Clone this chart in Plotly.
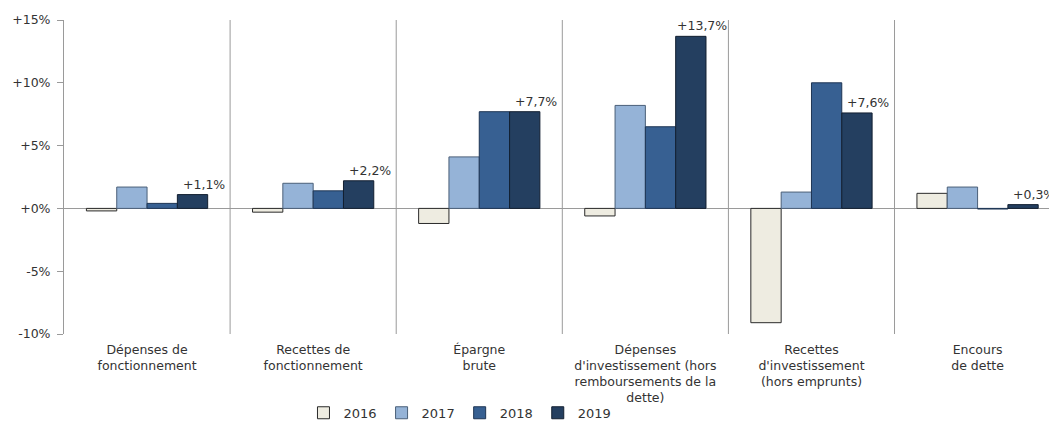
import plotly.graph_objects as go

# Évolution annuelle des principaux agrégats (en %)
categories = [
    "Dépenses de<br>fonctionnement",
    "Recettes de<br>fonctionnement",
    "Épargne<br>brute",
    "Dépenses<br>d'investissement (hors<br>remboursements de la<br>dette)",
    "Recettes<br>d'investissement<br>(hors emprunts)",
    "Encours<br>de dette",
]
years = ["2016", "2017", "2018", "2019"]
v2016 = [-0.2, -0.3, -1.2, -0.6, -9.1, 1.2]
v2017 = [1.7, 2.0, 4.1, 8.2, 1.3, 1.7]
v2018 = [0.4, 1.4, 7.7, 6.5, 10.0, -0.05]
v2019 = [1.1, 2.2, 7.7, 13.7, 7.6, 0.3]
y_ticks = [-10, -5, 0, 5, 10, 15]

series = [v2016, v2017, v2018, v2019]
fills = ["#EEECE1", "#95B3D7", "#376092", "#243F60"]
edges = ["#2a2a2a", "#4a5f78", "#1e3554", "#121f30"]

BARGAP = 0.27
xpos = list(range(len(categories)))

fig = go.Figure()
for name, vals, fc, ec in zip(years, series, fills, edges):
    fig.add_trace(go.Bar(
        x=xpos, y=vals, name=name,
        marker=dict(color=fc, line=dict(color=ec, width=1)),
    ))


def fr_pct(v):
    s = f"{v:+.1f}".replace(".", ",")
    return s + "%"


# value labels above the 2019 bars
bar_w = (1 - BARGAP) / 4
for i, v in enumerate(v2019):
    fig.add_annotation(
        x=i + 1.5 * bar_w, y=v, xref="x", yref="y",
        text=fr_pct(v), showarrow=False,
        yanchor="bottom", xanchor="center", xshift=11, yshift=1,
        font=dict(family="DejaVu Sans", size=12.5, color="#333333"),
    )

# vertical separators between categories
for i in range(len(categories) - 1):
    fig.add_shape(
        type="line", xref="x", yref="y",
        x0=i + 0.5, x1=i + 0.5, y0=y_ticks[0], y1=y_ticks[-1],
        line=dict(color="#9a9a9a", width=1), layer="below",
    )

fig.update_layout(
    width=1049, height=421,
    margin=dict(l=64, r=0, t=20, b=87, autoexpand=False),
    paper_bgcolor="white", plot_bgcolor="white",
    barmode="group", bargap=BARGAP, bargroupgap=0,
    showlegend=True,
    legend=dict(
        orientation="h", x=0.402, xanchor="center", y=-0.251, yanchor="middle",
        font=dict(family="DejaVu Sans", size=13, color="#333333"),
        itemwidth=30, tracegroupgap=0, bgcolor="rgba(0,0,0,0)",
    ),
    font=dict(family="DejaVu Sans", color="#333333"),
)

fig.update_xaxes(
    range=[-0.5, 5.43], automargin=False,
    tickmode="array", tickvals=xpos, ticktext=categories,
    tickfont=dict(family="DejaVu Sans", size=12.5, color="#333333"),
    showgrid=False, showline=False, ticks="", zeroline=False,
    tickangle=0, ticklabelstandoff=6,
)
fig.update_yaxes(
    range=[y_ticks[0], y_ticks[-1]], automargin=False,
    tickmode="array", tickvals=y_ticks,
    ticktext=[("+" if t >= 0 else "") + f"{t}%" for t in y_ticks],
    tickfont=dict(family="DejaVu Sans", size=12.5, color="#333333"),
    showgrid=False, showline=True, linecolor="#9a9a9a", linewidth=1,
    ticks="outside", ticklen=6, tickcolor="#9a9a9a", ticklabelstandoff=4,
    zeroline=True, zerolinecolor="#9a9a9a", zerolinewidth=1,
)

fig.write_html("out.html")
